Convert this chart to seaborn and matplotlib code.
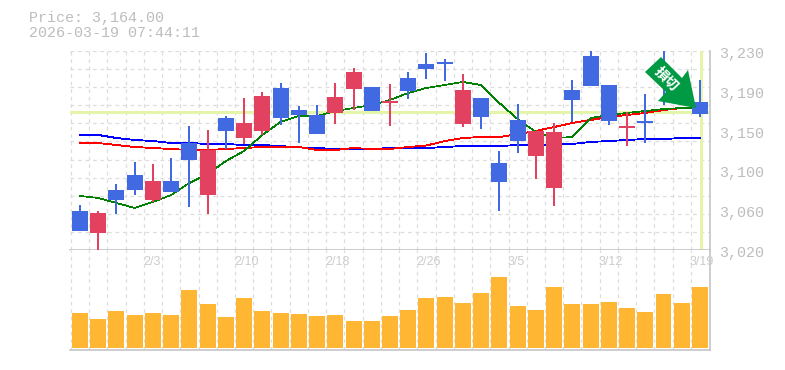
import numpy as np
import pandas as pd
import matplotlib
matplotlib.use("Agg")
import matplotlib.pyplot as plt
from matplotlib.patches import Polygon
from matplotlib.transforms import IdentityTransform
import seaborn as sns

dates = ["1/28", "1/29", "1/30", "2/2", "2/3", "2/4", "2/5", "2/6", "2/9", "2/10", "2/12", "2/13",
         "2/16", "2/17", "2/18", "2/19", "2/20", "2/24", "2/25", "2/26", "2/27", "3/2", "3/3", "3/4",
         "3/5", "3/6", "3/9", "3/10", "3/11", "3/12", "3/13", "3/16", "3/17", "3/18", "3/19"]
shown_dates = ["2/3", "2/10", "2/18", "2/26", "3/5", "3/12", "3/19"]

opens = [3061, 3038, 3083, 3099, 3073, 3093, 3133, 3078, 3159, 3138, 3146, 3191,
         3168, 3162, 3165, 3190, 3192, 3175, 3202, 3216, 3218, 3153, 3180, 3112,
         3157, 3119, 3085, 3189, 3225, 3194, 3149, 3156, 3212, 3194, 3176]
closes = [3040, 3059, 3073, 3083, 3093, 3081, 3115, 3126, 3146, 3154, 3183, 3159,
          3162, 3142, 3181, 3208, 3167, 3177, 3188, 3211, 3216, 3189, 3160, 3092,
          3135, 3146, 3145, 3178, 3193, 3156, 3151, 3154, 3197, 3178, 3164]
highs = [3068, 3061, 3090, 3113, 3111, 3117, 3151, 3147, 3161, 3180, 3187, 3196,
         3172, 3173, 3196, 3212, 3192, 3195, 3208, 3228, 3222, 3206, 3180, 3124,
         3174, 3146, 3154, 3199, 3231, 3194, 3166, 3185, 3231, 3199, 3199]
lows = [3040, 3020, 3058, 3078, 3071, 3081, 3065, 3058, 3127, 3132, 3141, 3152,
        3133, 3142, 3153, 3168, 3167, 3151, 3179, 3200, 3198, 3150, 3148, 3061,
        3122, 3095, 3066, 3155, 3193, 3152, 3130, 3133, 3173, 3175, 3160]
volumes = [35, 29, 37, 33, 35, 33, 58, 44, 31, 50, 37, 35, 34, 32, 33, 27, 27, 32,
           38, 50, 51, 45, 55, 71, 42, 38, 61, 44, 44, 46, 40, 36, 54, 45, 61]

ma_green = [3077.0, 3074.9, 3069.6, 3064.3, 3070.7, 3078.0, 3090.7, 3100.2, 3113.9, 3124.5, 3141.4, 3155.1,
            3161.4, 3161.4, 3166.7, 3169.8, 3173.0, 3178.3, 3185.7, 3191.0, 3194.1, 3197.3, 3194.1, 3175.1,
            3158.2, 3144.5, 3138.2, 3139.2, 3159.3, 3162.5, 3164.6, 3166.7, 3168.8, 3169.8, 3169.8]
ma_red = [3132.9, 3132.9, 3130.8, 3128.7, 3127.6, 3126.6, 3125.5, 3125.5, 3126.6, 3127.6, 3128.7, 3128.7,
          3128.7, 3125.5, 3125.5, 3127.6, 3126.6, 3126.6, 3128.7, 3130.3, 3134.9, 3138.2, 3139.2, 3139.2,
          3142.4, 3145.6, 3149.8, 3154.0, 3157.2, 3160.4, 3162.5, 3164.6, 3167.7, 3169.8, 3169.8]
ma_blue = [3141.4, 3141.4, 3138.2, 3136.1, 3135.0, 3132.9, 3132.9, 3131.9, 3131.9, 3130.8, 3130.8, 3129.7,
           3128.2, 3127.6, 3126.6, 3126.6, 3126.6, 3127.6, 3127.6, 3127.6, 3128.7, 3129.7, 3129.7, 3129.7,
           3130.8, 3130.8, 3131.3, 3131.9, 3134.0, 3135.0, 3136.1, 3137.1, 3137.1, 3138.2, 3138.2]

price_ticks = [3230, 3188, 3146, 3104, 3062, 3020]
price_labels = ["3,230", "3,190", "3,150", "3,100", "3,060", "3,020"]
guide_price = 3165.5

title_lines = ["Price: 3,164.00", "2026-03-19 07:44:11"]

GRAY = "#bdbdbd"
UP = "#E2415F"
DOWN = "#4169E1"
GUIDE = "#E4F5A9"
W, H = 785, 370

sns.set_theme(style="white")
plt.rcParams["font.family"] = ["Liberation Mono", "DejaVu Sans"]

df = pd.DataFrame({"pos": np.arange(len(dates)), "date": dates, "open": opens, "close": closes,
                   "high": highs, "low": lows, "volume": volumes,
                   "ma_green": ma_green, "ma_red": ma_red, "ma_blue": ma_blue})
df["color"] = np.where(df["close"] > df["open"], UP, DOWN)

fig = plt.figure(figsize=(W / 100, H / 100), dpi=100)
ax = fig.add_axes([70 / W, (H - 250) / H, 640 / W, 199 / H])
ax_vol = fig.add_axes([70 / W, (H - 350) / H, 640 / W, 100 / H], sharex=ax)

# moving averages go under the candles
for col, c, w in [("ma_blue", "#0000ff", 0.6), ("ma_red", "#ff0000", 0.6), ("ma_green", "#008000", 0.5)]:
    sns.lineplot(data=df, x="pos", y=col, color=c, linewidth=w, estimator=None, ax=ax, zorder=2,
                 antialiased=False)

ax.vlines(df["pos"], df["low"], df["high"], colors=df["color"], lw=1.1, zorder=3, antialiased=False)
body_low = df[["open", "close"]].min(axis=1)
body_h = (df["open"] - df["close"]).abs()
ax.bar(df["pos"], body_h, bottom=body_low, width=0.877, color=df["color"], lw=0, zorder=4, antialiased=False)

ax.axhline(guide_price, color=GUIDE, lw=2.2, zorder=1)
ax.axvline(df["pos"].iloc[-1] + 0.03, color=GUIDE, lw=2.2, zorder=1)

sns.barplot(data=df, x="pos", y="volume", native_scale=True, color="#FFB733", saturation=1,
            width=0.877, ax=ax_vol, zorder=3, linewidth=0)

slots = np.arange(len(dates)) - 0.5
for a in (ax, ax_vol):
    a.set_xlim(-0.548, 34.55)
    a.set_xticks(slots)
    a.tick_params(length=0, labelbottom=False, labelleft=False)
    a.set_xlabel("")
    a.set_ylabel("")
    a.grid(True, axis="x", color="#dddddd", lw=0.9, ls=(0, (3, 3)), zorder=0)
    a.set_axisbelow(True)
    a.spines["left"].set_visible(False)
    a.spines["top"].set_visible(False)
    a.spines["right"].set_color("#c0c0c0")
    a.spines["bottom"].set_color("#c0c0c0")
    a.spines["right"].set_linewidth(1.1)
    a.spines["bottom"].set_linewidth(1.1)

ax.set_ylim(3020, 3230)
ax.set_yticks(np.linspace(3020, 3230, 12))
ax.grid(True, axis="y", color="#dddddd", lw=0.9, ls=(0, (3, 3)), zorder=0)
ax_vol.set_ylim(-2, 98)
ax_vol.set_yticks([])

for t, lab in zip(price_ticks, price_labels):
    ax.annotate(lab, xy=(1, t), xycoords=ax.get_yaxis_transform(), xytext=(9, -3), textcoords="offset pixels",
                ha="left", va="center", color=GRAY, fontsize=10.8, annotation_clip=False)

for d in shown_dates:
    i = dates.index(d)
    ax_vol.annotate(d, xy=(i - 0.5, 1), xycoords=ax_vol.get_xaxis_transform(), xytext=(-1, -12),
                    textcoords="offset pixels", ha="left", va="center", color="#cccccc", fontsize=9,
                    family="Liberation Sans", annotation_clip=False, zorder=5)

fig.text(29 / W, 1 - 18 / H, title_lines[0], color=GRAY, fontsize=10.8, va="center")
fig.text(29 / W, 1 - 33 / H, title_lines[1], color=GRAY, fontsize=10.8, va="center")

# green arrow marker, pixel outline
arrow = [(645, 72), (661, 57), (682, 78), (688, 70), (696, 108), (658, 101), (666, 92)]
fig.add_artist(Polygon([(x, H - y) for x, y in arrow], closed=True, transform=IdentityTransform(),
                       facecolor="#009944", edgecolor="none", zorder=10))
fig.text(666.5 / W, 1 - 79 / H, "損切", color="white", fontsize=10, fontweight="bold", rotation=-45,
         rotation_mode="anchor", ha="center", va="center", family="Noto Sans CJK JP", zorder=11)

fig.savefig("out.png", dpi=100)
